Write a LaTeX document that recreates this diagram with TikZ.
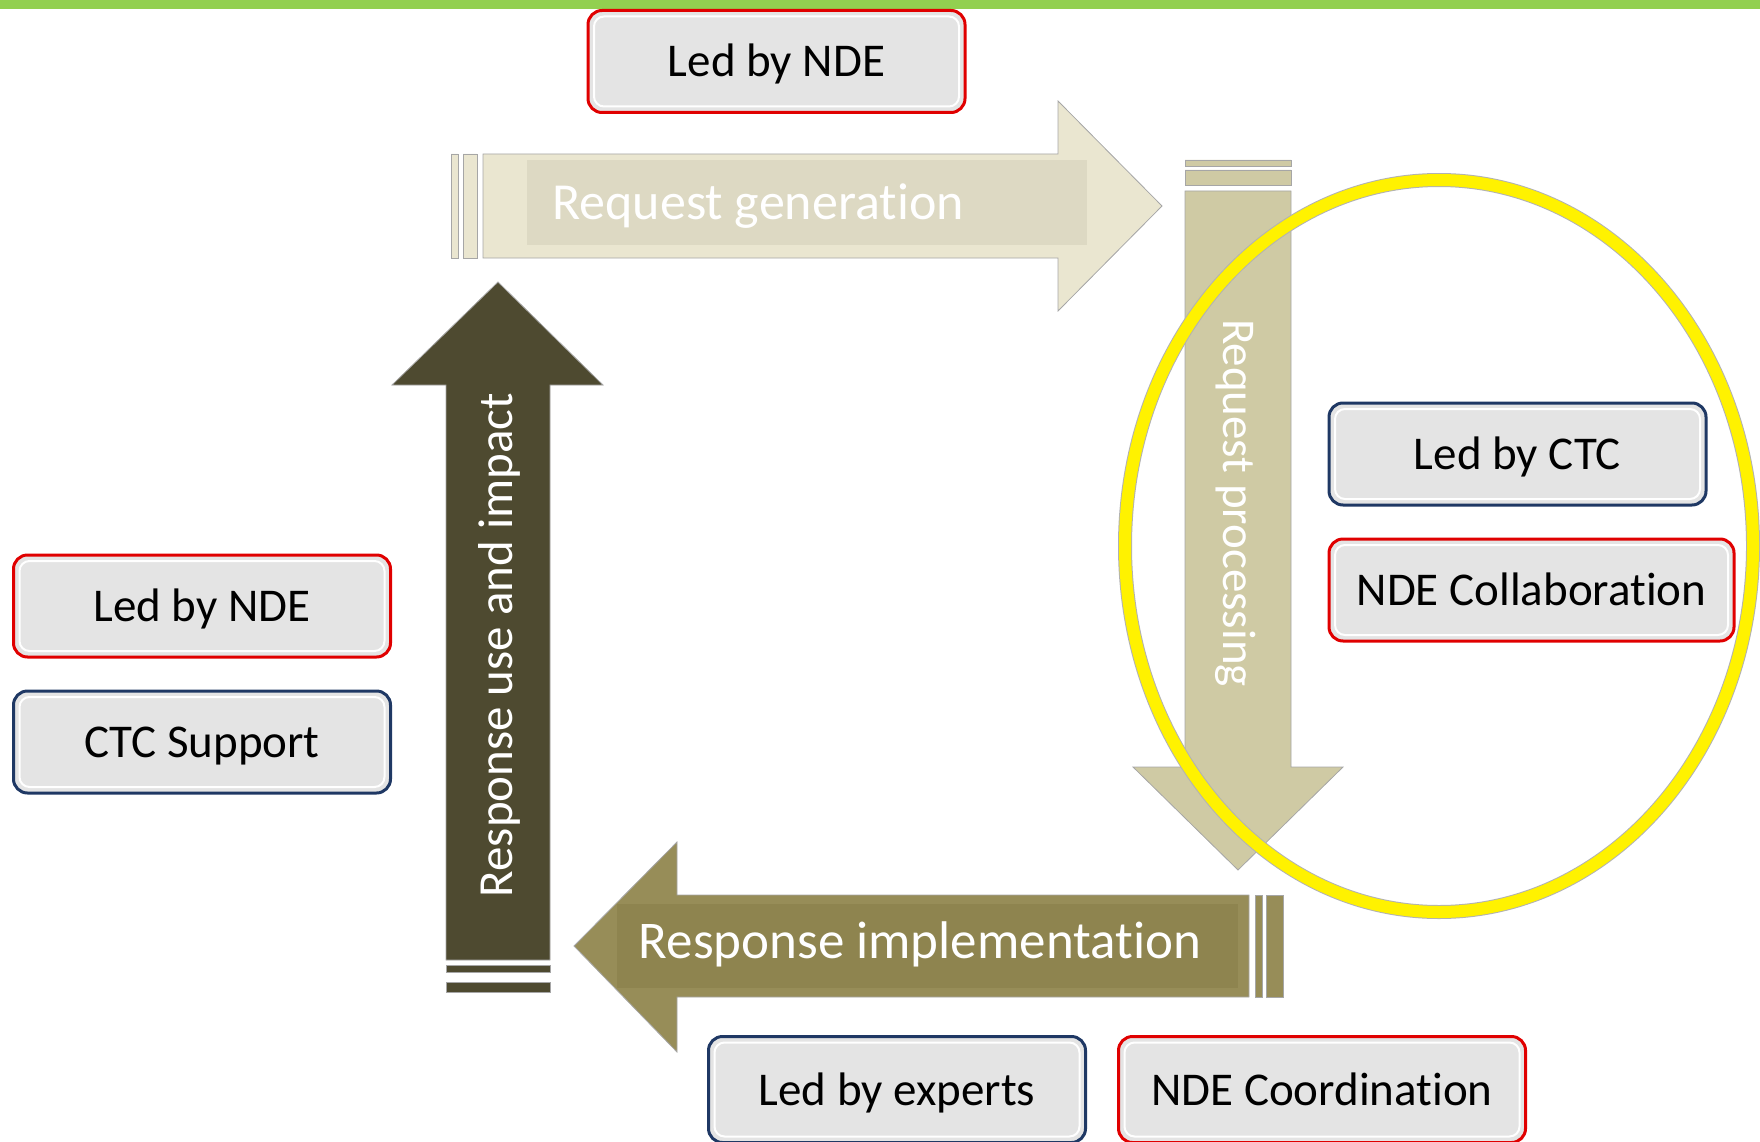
\documentclass[tikz,border=0pt]{standalone}
\usepackage{fontspec}
\setmainfont{Carlito}[RawFeature={-liga;-clig;-calt;-dlig;-rlig;-ccmp}]
\usepackage{xcolor}
\usetikzlibrary{positioning}
\definecolor{topgreen}{HTML}{92D050}
\definecolor{ndered}{HTML}{E00000}
\definecolor{ctcblue}{HTML}{1F3864}
\definecolor{boxgray}{HTML}{E4E4E4}
\definecolor{genfill}{HTML}{EAE6D0}
\definecolor{genband}{HTML}{DDD9C3}
\definecolor{procfill}{HTML}{CFCAA4}
\definecolor{implfill}{HTML}{978D58}
\definecolor{implband}{HTML}{8E844F}
\definecolor{usefill}{HTML}{4E4A30}
\newcommand{\boxfont}{\fontsize{47}{56}\selectfont}
\newcommand{\stagefont}{\fontsize{52}{62}\selectfont}

\begin{document}
\begin{tikzpicture}[
    x=1pt, y=-1pt,
    node distance=30pt and 30pt,
    ndebox/.style={draw=ndered, line width=3pt, rounded corners=14pt, fill=boxgray, align=center, minimum width=377pt, minimum height=102pt, inner sep=0pt, text height=36pt, text depth=5pt, font=\boxfont,
      path picture={\draw[white, line width=2pt, rounded corners=10pt] ([shift={(6pt,-6pt)}]path picture bounding box.north west) rectangle ([shift={(-6pt,6pt)}]path picture bounding box.south east);}},
    ctcbox/.style={ndebox, draw=ctcblue},
    stagetext/.style={text=white, inner sep=0pt, font=\stagefont},
    stageedge/.style={draw=black!35, line width=0.8pt}
]
\useasboundingbox (0,0) rectangle (1760,1142);
\fill[topgreen] (0,0) rectangle (1760,9);

\fill[genfill, stageedge] (483,154) -- (1058,154) -- (1058,101) -- (1162,206) -- (1058,311) -- (1058,258) -- (483,258) -- cycle;
\fill[genfill, stageedge] (451,154) rectangle (458,258) (463,154) rectangle (477,258);
\fill[genband] (527,160) rectangle (1087,245);
\node[stagetext] (reqgen) at (758,206) {Request generation};

\fill[procfill, stageedge] (1185,191) -- (1291,191) -- (1291,767) -- (1343,767) -- (1238,870) -- (1133,767) -- (1185,767) -- cycle;
\fill[procfill, stageedge] (1185,160) rectangle (1291,166) (1185,170) rectangle (1291,185);
\node[stagetext, rotate=-90, font=\fontsize{47}{56}\selectfont] (reqproc) at (1236,503) {Request processing};

\fill[implfill, stageedge] (1249,895) -- (677,895) -- (677,842) -- (574,946) -- (677,1052) -- (677,997) -- (1249,997) -- cycle;
\fill[implfill, stageedge] (1255,895) rectangle (1262,997) (1266,895) rectangle (1283,997);
\fill[implband] (617,904) rectangle (1238,988);
\node[stagetext, font=\fontsize{53}{64}\selectfont] (respimpl) at (920,944) {Response implementation};

\fill[usefill, stageedge] (446,960) -- (446,385) -- (392,385) -- (498,282) -- (603,385) -- (550,385) -- (550,960) -- cycle;
\fill[usefill, stageedge] (446,965) rectangle (550,972) (446,982) rectangle (550,992);
\node[stagetext, rotate=90, font=\fontsize{49}{60}\selectfont] (respuse) at (499,645) {Response use and impact};

\draw[black!30, line width=14pt] (1439,546) ellipse [x radius=314pt, y radius=366pt];
\draw[yellow, line width=12pt] (1439,546) ellipse [x radius=314pt, y radius=366pt];

\node[ndebox] (topnde) at (776.5,61.5) {Led by NDE};
\node[ndebox] (leftnde) at (202,606) {Led by NDE};
\node[ctcbox, below=31pt of leftnde] (ctcsup) {CTC Support};
\node[ctcbox] (ledctc) at (1517.5,454) {Led by CTC};
\node[ndebox, minimum width=405pt, below=31pt of ledctc.south west, anchor=north west] (ndecollab) {NDE Collaboration};
\node[ctcbox, minimum height=106pt] (ledexp) at (897,1089.5) {Led by experts};
\node[ndebox, minimum width=407pt, minimum height=106pt, right=30pt of ledexp] (ndecoord) {NDE Coordination};
\end{tikzpicture}
\end{document}
